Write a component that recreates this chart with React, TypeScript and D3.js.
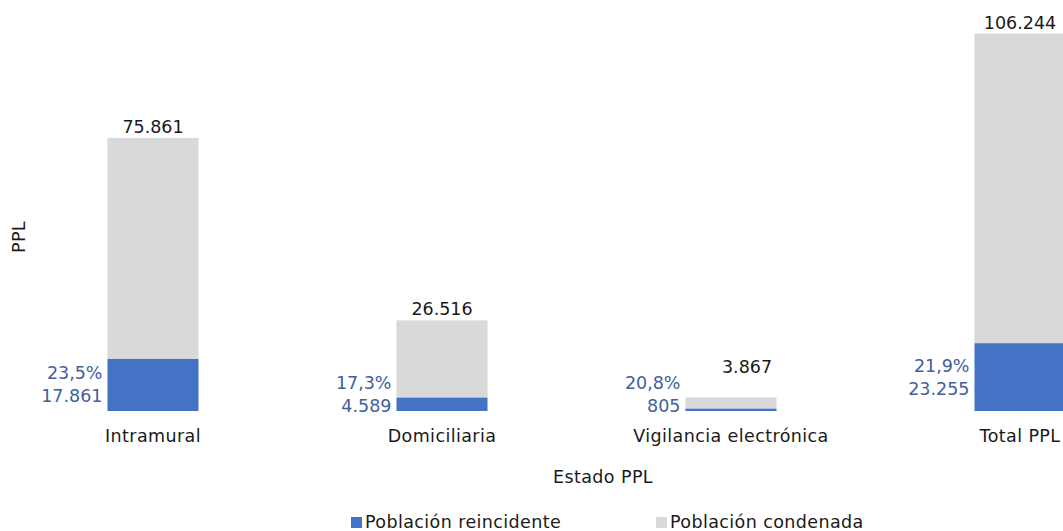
import React from "react";
import * as d3 from "d3";

const categories = ["Intramural", "Domiciliaria", "Vigilancia electrónica", "Total PPL"];
const reincidente = [17861, 4589, 805, 23255];
const condenada = [75861, 26516, 3867, 106244];
const percentLabels = ["23,5%", "17,3%", "20,8%", "21,9%"];
const seriesNames = ["Población reincidente", "Población condenada"];

const W = 1063;
const H = 531;
const BLUE = "#4472C4";
const GRAY = "#D9D9D9";
const LABEL_BLUE = "#41609E";
const TEXT = "#1a1a1a";
const FONT = "'DejaVu Sans', Verdana, sans-serif";
const FS = 17.5;
const LS = 0.4;

const fmt = (v: number) => d3.format(",")(v).replace(/,/g, ".");

export default function App() {
  const x = d3
    .scaleBand<string>()
    .domain(categories)
    .range([8.5, 1164.5])
    .paddingInner(0.685)
    .paddingOuter(0.685 / 2);
  const y = d3.scaleLinear().domain([0, 140000]).range([411, 3]);
  const bw = x.bandwidth();

  return (
    <svg
      width={W}
      height={H}
      style={{ position: "absolute", left: 0, top: 0, background: "#fff" }}
      fontFamily={FONT}
      fontSize={FS}
    >
      {categories.map((c, i) => {
        const x0 = x(c)!;
        const cx = x0 + bw / 2;
        const r = reincidente[i];
        const t = condenada[i];
        const yBlueTop = y(r);
        const yGrayTop = y(r + t);
        const segMid = (yBlueTop + y(0)) / 2;
        const blockMid = Math.min(segMid, 394);
        const isVig = i === 2;
        const topX = isVig ? cx + 16 : cx;
        const topY = isVig ? yGrayTop - 24 : yGrayTop - 5;
        return (
          <g key={c}>
            <rect x={x0} y={yGrayTop} width={bw} height={yBlueTop - yGrayTop} fill={GRAY} />
            <rect x={x0} y={yBlueTop} width={bw} height={y(0) - yBlueTop} fill={BLUE} />
            <text x={topX} y={topY} textAnchor="middle" fill={TEXT}>
              {fmt(t)}
            </text>
            <text x={x0 - 5} y={blockMid - 11.5} textAnchor="end" dominantBaseline="central" fill={LABEL_BLUE}>
              {percentLabels[i]}
            </text>
            <text x={x0 - 5} y={blockMid + 11.5} textAnchor="end" dominantBaseline="central" fill={LABEL_BLUE}>
              {fmt(r)}
            </text>
            <text x={cx} y={436} textAnchor="middle" dominantBaseline="central" fill={TEXT} letterSpacing={LS}>
              {c}
            </text>
          </g>
        );
      })}
      <text
        transform={`translate(19,237) rotate(-90)`}
        textAnchor="middle"
        dominantBaseline="central"
        fill={TEXT}
        letterSpacing={LS}
      >
        PPL
      </text>
      <text x={603} y={477} textAnchor="middle" dominantBaseline="central" fill={TEXT} letterSpacing={LS}>
        Estado PPL
      </text>
      <g letterSpacing={LS}>
        <rect x={351} y={517} width={11} height={11} fill={BLUE} />
        <text x={365} y={522} dominantBaseline="central" fill={TEXT}>
          {seriesNames[0]}
        </text>
        <rect x={656} y={517} width={11} height={11} fill={GRAY} />
        <text x={670} y={522} dominantBaseline="central" fill={TEXT}>
          {seriesNames[1]}
        </text>
      </g>
    </svg>
  );
}
